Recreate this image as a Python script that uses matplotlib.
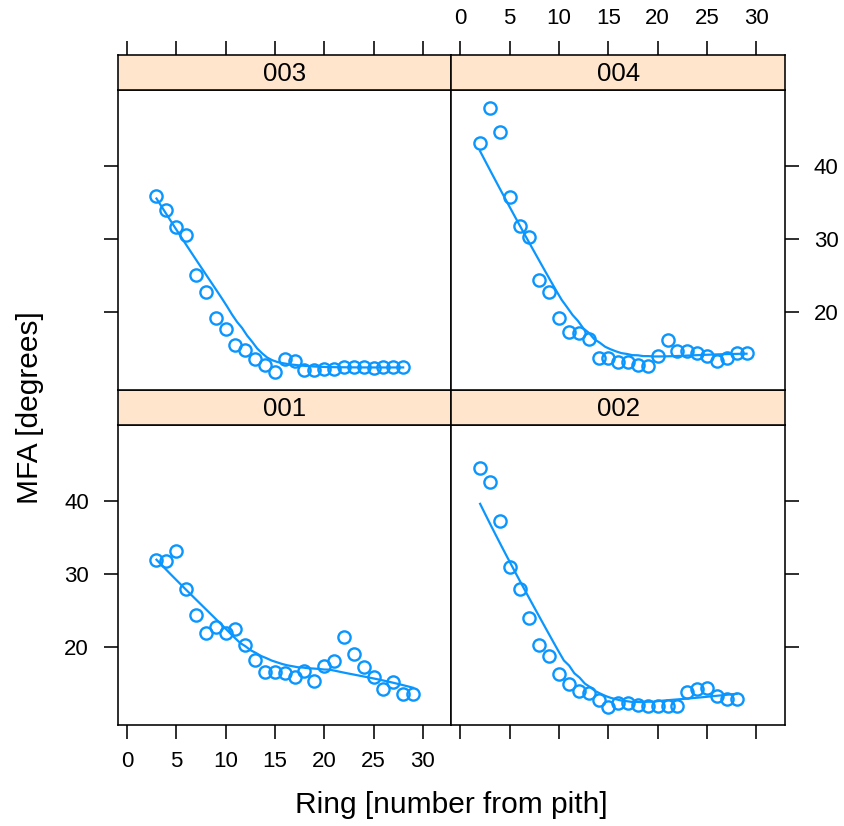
import numpy as np
import matplotlib
matplotlib.use("Agg")
import matplotlib.pyplot as plt

plt.rcParams['font.family'] = ['Liberation Sans', 'DejaVu Sans']

# ---- data ----
x_001 = list(range(3, 30))
y_001 = [31.96, 31.7, 33.2, 28.0, 24.4, 21.9, 22.7, 21.95, 22.4, 20.3, 18.2, 16.6,
         16.5, 16.4, 15.9, 16.7, 15.3, 17.35, 18.0, 21.3, 19.0, 17.3, 15.9, 14.3,
         15.25, 13.5, 13.6]

x_002 = list(range(2, 29))
y_002 = [44.56, 42.55, 37.26, 30.9, 27.9, 24.0, 20.3, 18.77, 16.35, 14.85, 13.9,
         13.74, 12.78, 11.74, 12.37, 12.37, 12.05, 11.9, 11.9, 11.9, 11.9, 13.8,
         14.25, 14.4, 13.3, 12.9, 12.9]

x_003 = list(range(3, 29))
y_003 = [35.9, 33.9, 31.6, 30.5, 25.1, 22.7, 19.2, 17.6, 15.4, 14.8, 13.6, 12.7,
         11.8, 13.6, 13.3, 12.05, 12.05, 12.2, 12.2, 12.4, 12.45, 12.4, 12.35,
         12.4, 12.45, 12.5]

x_004 = list(range(2, 30))
y_004 = [43.1, 48.0, 44.6, 35.75, 31.8, 30.3, 24.4, 22.7, 19.2, 17.2, 17.1, 16.3,
         13.7, 13.7, 13.15, 13.15, 12.7, 12.55, 14.0, 16.1, 14.6, 14.6, 14.35,
         14.0, 13.3, 13.7, 14.4, 14.35]

panels = ['001', '002', '003', '004']
xs_all = {'001': x_001, '002': x_002, '003': x_003, '004': x_004}
ys_all = {'001': y_001, '002': y_002, '003': y_003, '004': y_004}

x_ticks = [0, 5, 10, 15, 20, 25, 30]
y_ticks = [20, 30, 40]

COL = '#0a96ff'
STRIP = '#ffe5cc'


def _local_fit(x, y, rw, x0, q, degree):
    d = np.abs(x - x0)
    h = np.sort(d)[q - 1]
    u = np.clip(d / h, 0, 1)
    w = (1 - u ** 3) ** 3 * rw
    X = np.vander(x - x0, degree + 1, increasing=True)
    A = X.T @ (w[:, None] * X)
    b = X.T @ (w * y)
    return np.linalg.lstsq(A, b, rcond=None)[0][0]


def loess(x, y, xe, span=2/3, degree=1, iterations=4):
    """Robust ('symmetric') loess as used by lattice's panel.loess."""
    x = np.asarray(x, float)
    y = np.asarray(y, float)
    n = len(x)
    q = int(np.floor(n * span))
    rw = np.ones(n)
    for it in range(iterations):
        fit = np.array([_local_fit(x, y, rw, xi, q, degree) for xi in x])
        if it == iterations - 1:
            break
        r = y - fit
        cmad = 6 * np.median(np.abs(r))
        u = np.abs(r) / cmad
        rw = np.where(u < 0.001, 1.0, np.where(u > 0.999, 0.0, (1 - u ** 2) ** 2))
    return np.array([_local_fit(x, y, rw, x0, q, degree) for x0 in xe])


W, H = 845, 826
fig = plt.figure(figsize=(W / 100, H / 100), dpi=100)

L, R = 118, 785
mid = (L + R) / 2
rows = {  # (strip_top, panel_top, panel_bottom)
    'top': (55, 90, 390),
    'bot': (390, 425, 725),
}
layout = {'001': ('bot', 0), '002': ('bot', 1), '003': ('top', 0), '004': ('top', 1)}

xlim = (-0.9, 32.9)
ylim = (9.3, 50.4)
tick_len = 9.8
lw_frame = 1.15
fs = 16

for p in panels:
    row, col = layout[p]
    st, pt, pb = rows[row]
    x0 = L if col == 0 else mid
    x1 = mid if col == 0 else R
    ax = fig.add_axes([x0 / W, 1 - pb / H, (x1 - x0) / W, (pb - pt) / H])
    sax = fig.add_axes([x0 / W, 1 - pt / H, (x1 - x0) / W, (pt - st) / H])

    xs = np.array(xs_all[p])
    ys = np.array(ys_all[p])
    ax.plot(xs, ys, linestyle='none', marker='o', markersize=8.8,
            markerfacecolor='none', markeredgecolor=COL, markeredgewidth=1.7)
    xe = np.linspace(xs.min(), xs.max(), 50)
    ax.plot(xe, loess(xs, ys, xe), color=COL, lw=1.6)

    ax.set_xlim(xlim)
    ax.set_ylim(ylim)
    ax.set_xticks(x_ticks)
    ax.set_yticks(y_ticks)
    for s in ax.spines.values():
        s.set_linewidth(lw_frame)
    ax.tick_params(direction='out', length=tick_len, width=1.15, labelsize=fs)
    ax.tick_params(axis='x', pad=9)
    ax.tick_params(axis='y', pad=11)

    # y ticks
    if col == 0:
        ax.tick_params(axis='y', left=True, right=False,
                       labelleft=(row == 'bot'), labelright=False)
    else:
        ax.tick_params(axis='y', left=False, right=True,
                       labelleft=False, labelright=(row == 'top'))
    # x ticks
    if row == 'bot':
        ax.tick_params(axis='x', bottom=True, top=False,
                       labelbottom=(col == 0), labeltop=False)
    else:
        ax.tick_params(axis='x', bottom=False, top=False,
                       labelbottom=False, labeltop=False)

    # strip
    sax.set_facecolor(STRIP)
    sax.set_xlim(xlim)
    sax.set_ylim(0, 1)
    sax.set_yticks([])
    for s in sax.spines.values():
        s.set_linewidth(lw_frame)
    sax.text(0.5, 0.47, p, transform=sax.transAxes, ha='center', va='center',
             fontsize=18.5)
    if row == 'top':
        sax.set_xticks(x_ticks)
        sax.tick_params(axis='x', direction='out', length=tick_len, width=1.15,
                        bottom=False, top=True, labelbottom=False,
                        labeltop=(col == 1), labelsize=fs, pad=9)
    else:
        sax.set_xticks([])

fig.text(mid / W, 1 - 805 / H, 'Ring [number from pith]', ha='center',
         va='center', fontsize=21.5)
fig.text(30 / W, 1 - 408 / H, 'MFA [degrees]', ha='center', va='center',
         rotation=90, fontsize=21.5)

fig.savefig('out.png', dpi=100)
